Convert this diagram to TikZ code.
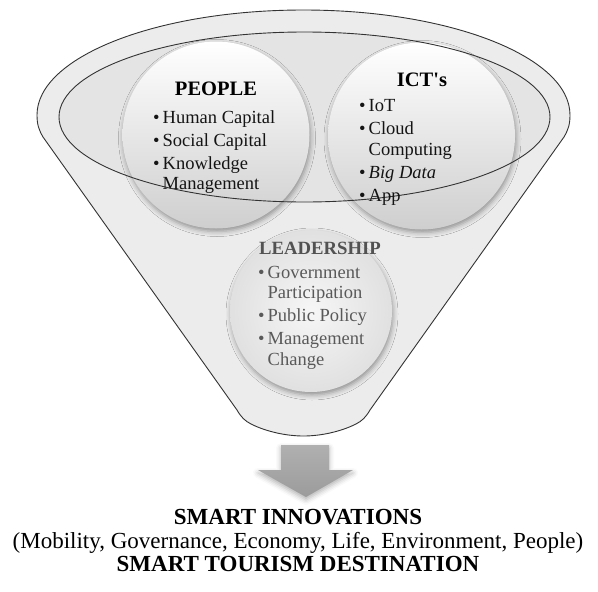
\documentclass[tikz,border=0pt]{standalone}
\usepackage{fontspec}
\setmainfont{Liberation Serif}
\newfontfamily\rawserif{Liberation Serif}[Ligatures=TeXOff]
\usetikzlibrary{shadows.blur}
\newcommand\mybul{\makebox[9.5pt][l]{•}}
\newcommand\myind{\hspace*{9.5pt}}
\begin{document}
\begin{tikzpicture}[x=1pt,y=-1pt,
  ball/.style={circle, inner sep=0pt, minimum size=#1,
    blur shadow={shadow xshift=1pt, shadow yshift=-3pt, shadow blur radius=5pt, shadow opacity=38}},
  whiteball/.style={ball=#1, top color=white, middle color=white, bottom color=gray!38},
  grayball/.style={ball=#1, inner color=gray!7, outer color=gray!24},
  title/.style={font=\fontsize{20.5}{22}\selectfont\bfseries, inner sep=0pt, anchor=base},
  body/.style={font=\fontsize{18.5}{20.5}\selectfont, align=left, inner sep=0pt, anchor=base west},
  rimline/.style={draw=black!80, line width=0.9pt},
]
\useasboundingbox (0,0) rectangle (598,592);

% funnel body
\path[fill=gray!15, rimline]
  (37,115) arc[start angle=180, end angle=360, x radius=266.5, y radius=105]
  .. controls (570,125) and (568,130) .. (564,137)
  -- (370,410)
  .. controls (366,417) and (362,421) .. (356,424)
  .. controls (340,432) and (320,436) .. (303.5,436)
  .. controls (287,436) and (267,432) .. (251,424)
  .. controls (245,421) and (241,417) .. (237,410)
  -- (43,137)
  .. controls (39,130) and (37,125) .. (37,115) -- cycle;

% inner mouth
\fill[gray!21] (304.5,117) ellipse[x radius=245.5, y radius=85];

% circles
\node[grayball=162pt] (lead) at (311,311) {};
\node[whiteball=187pt] (people) at (216,135) {};
\node[whiteball=187pt] (ict) at (421.5,136) {};

% rim line of the mouth
\draw[rimline] (304.5,117) ellipse[x radius=245.5, y radius=85];

% texts (base anchor = baseline of the last line)
\node[title] (peopletitle) at (216,95) {PEOPLE};
\node[body, text=black!92] (peoplelist) at (153,189.5)
  {\mybul Human Capital\\[2.5pt]\mybul Social Capital\\[2.5pt]\mybul Knowledge\\\myind Management};

\node[title] (icttitle) at (422,86) {ICT{\rawserif\bfseries '}s};
\node[body, text=black!92] (ictlist) at (359,201)
  {\mybul IoT\\[2.5pt]\mybul Cloud\\\myind Computing\\[2.5pt]\mybul \textit{Big Data}\\[2.5pt]\mybul App};

\node[title, font=\fontsize{18.7}{20}\selectfont\bfseries, text=black!68] (leadtitle) at (320,254) {LEADERSHIP};
\node[body, text=black!65] (leadlist) at (258,365)
  {\mybul Government\\\myind Participation\\[2.5pt]\mybul Public Policy\\[2.5pt]\mybul Management\\\myind Change};

% arrow
\path[top color=gray!62, bottom color=gray!78,
  blur shadow={shadow xshift=0pt, shadow yshift=-3pt, shadow blur radius=5pt, shadow opacity=30}]
  (281,445) -- (329,445) -- (329,470) -- (353,470) -- (306,497) -- (258,470) -- (281,470) -- cycle;

% result text
\node[font=\fontsize{23}{23.5}\selectfont, align=center, inner sep=0pt, anchor=base] (result) at (298,571.5)
  {\textbf{SMART INNOVATIONS}\\(Mobility, Governance, Economy, Life, Environment, People)\\\textbf{SMART TOURISM DESTINATION}};
\end{tikzpicture}
\end{document}
